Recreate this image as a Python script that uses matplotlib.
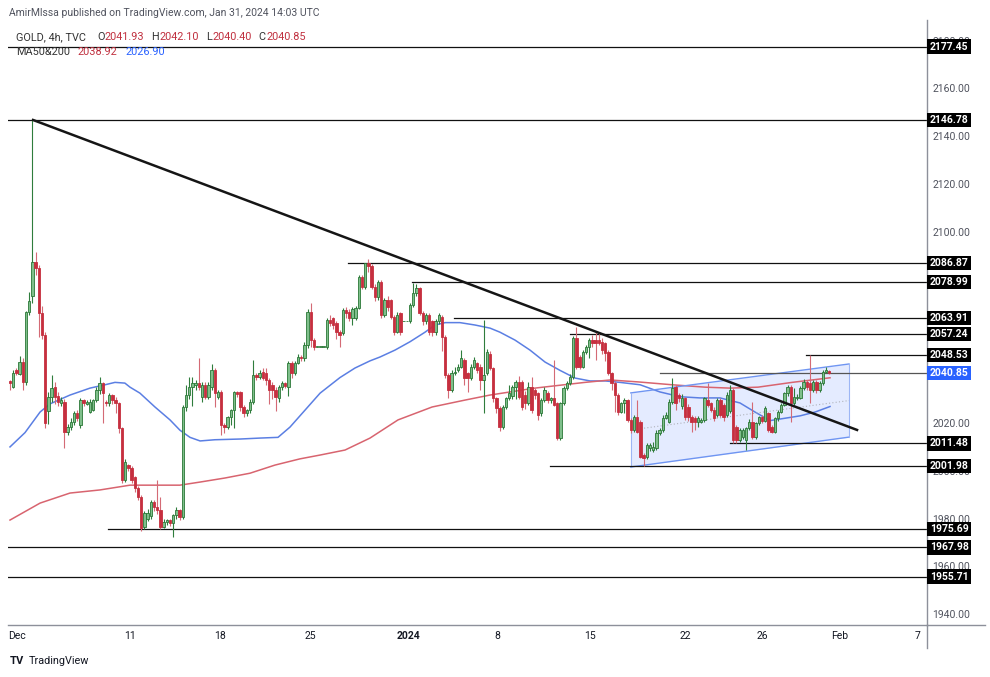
import matplotlib
matplotlib.use('Agg')
import matplotlib.pyplot as plt
import numpy as np

plt.rcParams['font.family'] = ['Roboto', 'DejaVu Sans']

# 4h candles (open, high, low, close)
wk_dec04 = [
    (2037.5, 2038, 2034, 2036.6), (2035, 2042, 2034.5, 2041), (2042, 2043, 2040, 2040.8),
    (2040.5, 2048, 2040, 2045.7), (2045.7, 2047, 2034, 2037), (2037, 2067, 2036, 2066.6),
    (2066.6, 2075, 2065, 2071), (2073, 2146.78, 2070, 2087.5), (2087.5, 2091.5, 2082, 2085),
    (2085, 2086, 2056, 2066), (2066, 2069, 2055, 2057), (2057, 2058, 2018, 2020),
    (2025, 2033, 2019.5, 2031), (2031, 2040, 2029, 2034.5), (2035, 2037, 2028, 2031),
    (2031.5, 2033, 2027, 2029), (2028.5, 2031, 2027, 2029.5), (2029, 2030, 2009.4, 2016.4),
    (2016.4, 2019.5, 2015, 2018.5), (2018.5, 2022, 2017, 2020.6), (2020.6, 2025, 2019, 2024),
    (2024, 2025.5, 2021, 2022), (2019, 2030.5, 2018, 2029.6), (2029.6, 2030, 2027, 2028.2),
    (2028, 2029.5, 2027.5, 2028.9), (2024.7, 2030, 2024, 2028.9), (2025.4, 2030, 2025, 2029.6),
    (2029.6, 2035, 2029, 2033.8), (2033.8, 2039.4, 2032, 2036.6), (2036.6, 2037, 2020, 2032.4),
    (2029, 2029.5, 2027, 2028.2), (2028.2, 2032.5, 2027, 2031.7), (2031.7, 2032.3, 2028, 2029.6),
    (2029.6, 2031, 2024, 2028.2), (2028.2, 2029, 2016, 2017.8), (2017.8, 2018.5, 1995, 1996.1),
    (1996.1, 2005, 1995.5, 2003.8), (2002.4, 2003, 2000, 2001),
]
wk_dec11 = [
    (2001, 2002, 1995, 1996.1), (1997.5, 1998, 1991, 1992.7), (1992.7, 1993.5, 1988, 1989.2),
    (1989.2, 1990, 1975, 1975.9), (1976.6, 1983, 1975.7, 1982.2), (1980, 1984, 1979, 1982.5),
    (1981, 1988, 1980, 1987.1), (1987.1, 1988, 1983, 1985), (1985, 1996, 1982, 1983.6),
    (1983.6, 1989, 1975.7, 1976.6), (1976.6, 1980, 1976, 1978.7), (1978.7, 1980, 1977.5, 1979.4),
    (1979.4, 1980, 1977, 1978), (1978, 1982, 1972.4, 1981.5), (1981.5, 1985, 1980, 1983.6),
    (1983.6, 1984, 1979.5, 1980.8), (1980.8, 2027.5, 1980, 2026.8), (2026.8, 2036, 2025, 2031.7),
    (2031.7, 2039.4, 2030, 2035.2), (2035.2, 2039.4, 2027, 2036.6), (2035.9, 2038, 2034, 2036.6),
    (2036.6, 2047.1, 2034, 2035.2), (2031, 2037, 2029, 2036), (2035.9, 2037, 2030, 2031),
    (2031, 2037, 2030, 2035.9), (2035.2, 2044.6, 2034, 2042.2), (2042.2, 2043, 2026.8, 2032.4),
    (2031, 2034, 2030, 2033), (2033, 2034, 2015, 2019.2), (2019.2, 2020, 2016, 2018.5),
    (2018.5, 2023, 2017.5, 2022.6), (2022.6, 2026, 2019, 2025.4), (2025.4, 2033.5, 2018, 2033.1),
    (2033.1, 2033.5, 2031, 2032), (2033.1, 2033.5, 2025, 2026.8), (2026.8, 2027.5, 2022.6, 2024),
    (2024, 2026, 2023, 2025.4),
]
wk_dec18 = [
    (2025.4, 2030, 2024, 2028.9), (2028.9, 2046.4, 2028, 2040.1), (2040.1, 2041, 2038, 2039.4),
    (2039.4, 2042, 2038.5, 2040.8), (2041.5, 2043, 2038, 2039), (2040.8, 2043, 2036, 2038),
    (2038, 2039, 2028, 2033.8), (2036, 2037, 2030, 2033.8), (2033.8, 2035, 2025, 2031),
    (2030.3, 2036, 2029, 2035.2), (2035.2, 2037.5, 2034, 2036.6), (2036.6, 2037, 2034.5, 2035.5),
    (2035.2, 2046, 2031.5, 2045), (2045, 2046, 2039, 2041), (2041, 2046, 2040, 2045.2),
    (2045.2, 2049, 2044.5, 2047.7), (2047.7, 2048.5, 2046, 2047), (2047, 2054, 2046, 2052.6),
    (2052.6, 2067.5, 2051.5, 2066.6), (2066.6, 2070.1, 2052, 2054.7), (2054.7, 2055.5, 2050.5, 2051.9),
    (2051.9, 2051.9, 2051.9, 2051.9), (2051.9, 2051.9, 2051.9, 2051.9), (2051.9, 2051.9, 2051.9, 2051.9),
    (2051.9, 2064, 2051, 2063.1), (2063.1, 2065, 2060.5, 2061.7), (2063.8, 2064.5, 2059.5, 2061),
    (2061.7, 2062.5, 2055, 2058.2), (2058.2, 2059, 2052, 2056.8), (2057.5, 2068, 2057, 2067.3),
    (2067.3, 2068.5, 2064, 2066), (2066.6, 2067.5, 2062.5, 2063.8), (2063.8, 2068.5, 2061, 2067.5),
    (2064, 2069, 2063, 2068), (2068, 2082, 2067.5, 2081.2), (2081.2, 2082, 2076, 2077),
    (2077, 2086.9, 2076, 2086.8),
]
wk_jan01 = [
    (2086.8, 2088.6, 2083, 2085.7), (2085.7, 2086.5, 2076, 2077), (2077, 2078, 2071, 2072.8),
    (2072.8, 2080, 2071.5, 2079.1), (2079.1, 2080, 2064, 2065.1), (2065.1, 2072.5, 2064.5, 2071.5),
    (2071.5, 2073, 2067, 2068.6), (2071.5, 2072, 2063.5, 2064.4), (2064.4, 2065, 2057, 2058.2),
    (2058.2, 2066.5, 2057.5, 2065.1), (2066, 2066.5, 2057, 2058.2),
    (2062.5, 2062.5, 2062.5, 2062.5), (2062.5, 2062.5, 2062.5, 2062.5),
    (2062.5, 2070, 2062, 2069.3), (2069.3, 2078.4, 2068.5, 2074.2), (2074.2, 2078, 2073, 2076.3),
    (2076.3, 2077, 2065, 2066), (2066, 2067, 2061, 2062.5), (2062.5, 2066, 2061.5, 2065.1),
    (2065.1, 2066, 2057, 2058.2), (2062.5, 2063, 2056.5, 2058.2), (2058.2, 2063.5, 2057, 2062.5),
    (2062.5, 2066, 2061.5, 2065.1), (2064.4, 2065, 2050, 2056.1), (2056.1, 2057, 2039, 2040.1),
    (2040.1, 2041, 2030.3, 2033.8), (2033.8, 2042, 2033, 2040.8), (2040.8, 2043.5, 2040, 2041.5),
    (2042.2, 2044.5, 2041.5, 2043.6), (2043.6, 2050.6, 2043, 2047.1), (2046.4, 2047, 2036, 2038.7),
    (2040.8, 2041.5, 2033, 2038.7), (2038.7, 2044.5, 2038, 2043.6), (2043.6, 2047.5, 2042.5, 2046.4),
    (2045, 2045.5, 2041, 2042.2), (2043.6, 2044.5, 2034, 2038), (2038, 2063.1, 2024, 2040.1),
]
wk_jan08 = [
    (2041, 2051, 2040, 2049.8), (2049, 2050, 2042, 2043), (2042.9, 2043.5, 2029, 2030.3),
    (2030.3, 2031, 2024, 2026.1), (2026.1, 2027, 2016.5, 2018.5), (2018.5, 2027.5, 2017.5, 2026.8),
    (2026.8, 2031, 2026, 2030.3), (2030.3, 2036, 2029.5, 2032.4), (2031.5, 2036, 2030, 2035.2),
    (2035.2, 2038, 2030, 2037.3), (2037.3, 2039.5, 2030, 2031), (2037.3, 2038, 2025.5, 2026.8),
    (2031.7, 2033.5, 2026, 2028.2), (2028.2, 2037, 2027.5, 2035.2), (2035.2, 2039.4, 2024, 2025.4),
    (2033.8, 2034.5, 2030, 2031.7), (2032.4, 2033, 2021.3, 2023.3), (2024, 2030.5, 2023, 2029.6),
    (2029.6, 2035, 2029, 2033.8), (2032.4, 2033.5, 2028.5, 2029.6), (2029.6, 2031, 2028.5, 2030.3),
    (2030.3, 2046.4, 2027, 2027.5), (2028.2, 2029, 2012.9, 2013.6), (2013.6, 2029, 2013, 2028.2),
    (2028.2, 2035.5, 2027.5, 2034.5), (2034.5, 2037.5, 2034, 2036.6), (2036.6, 2040.5, 2036, 2039.4),
    (2039.4, 2056.5, 2038.5, 2055.4), (2055.4, 2060.3, 2042.5, 2043.6), (2047.7, 2048.5, 2042.5, 2043.6),
    (2043.6, 2050.5, 2043, 2049.8), (2049.8, 2052.5, 2049, 2051.9), (2051.9, 2055.5, 2047, 2054.7),
    (2054.7, 2057, 2052, 2053.3), (2054.7, 2058.5, 2046.4, 2053.3), (2054.7, 2058, 2052.5, 2053.3),
    (2054, 2055.5, 2049, 2050.5), (2053.3, 2054, 2046, 2049.2),
]
wk_jan15 = [
    (2049.8, 2050.5, 2040, 2040.8), (2040.8, 2041.5, 2034, 2036.6), (2036.6, 2037.5, 2024.7, 2031.7),
    (2031.7, 2032.5, 2023.5, 2024.7), (2024.7, 2029, 2024, 2028.2), (2028.2, 2030.5, 2024, 2029.6),
    (2029.6, 2030, 2020.5, 2021.3), (2021.3, 2022, 2016, 2017.1), (2017.1, 2023.5, 2016.4, 2022.6),
    (2022.6, 2029.6, 2015.7, 2016.4), (2020.5, 2021.3, 2005.2, 2005.9), (2006.6, 2007.5, 2001.98, 2005.2),
    (2005.9, 2011.5, 2005, 2010.8), (2009.4, 2011.5, 2008.5, 2010.8), (2008.7, 2012, 2008, 2010.1),
    (2009.4, 2017, 2008.7, 2015.7), (2015.7, 2018, 2015, 2017.1), (2017.1, 2023.5, 2016.4, 2022),
    (2022, 2024.5, 2021.5, 2023.3), (2020.5, 2030, 2020, 2028.9), (2028.9, 2038.7, 2028, 2034.5),
    (2035.2, 2036, 2025.4, 2028.2), (2031.7, 2032.5, 2029, 2030.3), (2027, 2032, 2026, 2030.3),
    (2030.3, 2031, 2021.3, 2022.6), (2026.8, 2028, 2021, 2022.6), (2022.6, 2023.5, 2016.4, 2020.5),
    (2022, 2023, 2017.1, 2020.5), (2020.5, 2023, 2018.5, 2022), (2020.5, 2022, 2019.9, 2021.3),
    (2021.3, 2031, 2020.5, 2030.3), (2029.6, 2036.6, 2026.8, 2027.5), (2028.2, 2029, 2024.7, 2025.4),
    (2025.4, 2026.5, 2021, 2022), (2023.3, 2030.5, 2022.6, 2029.6), (2029.6, 2030.3, 2022.6, 2023.3),
    (2027.5, 2028.2, 2021, 2022.6), (2023.3, 2033, 2022.6, 2031.7),
]
wk_jan24 = [
    (2025, 2036, 2024, 2033.8), (2033.8, 2034.5, 2011.5, 2012.9), (2018.5, 2019, 2011.5, 2012.9),
    (2012.9, 2018, 2012, 2017.1), (2014.3, 2018, 2013.5, 2017.1), (2012.9, 2018.5, 2008.7, 2017.8),
    (2017.8, 2021.5, 2017, 2020.5), (2020.5, 2029, 2013.5, 2014.3), (2014.3, 2020.5, 2013.5, 2019.9),
    (2019.9, 2023, 2019, 2022.6), (2022.6, 2023.3, 2020, 2021), (2021, 2027, 2020.5, 2026.1),
    (2024, 2024.7, 2016.4, 2017.1), (2018.5, 2019, 2015.7, 2016.4), (2016.4, 2022.6, 2016, 2022),
    (2022, 2025.5, 2021, 2024.7), (2024.7, 2028.5, 2024, 2027.5), (2027.5, 2033, 2027, 2032.4),
    (2032.4, 2036, 2031.5, 2035.2), (2035.2, 2036, 2020.5, 2028.2), (2028.2, 2034.5, 2027.5, 2031),
    (2030.3, 2032, 2029.5, 2031), (2030.3, 2035.5, 2030, 2034.5), (2034.5, 2038.5, 2034, 2037.3),
    (2037.3, 2038, 2034, 2035.2), (2036.6, 2048.53, 2028.2, 2033.8), (2033.8, 2038, 2033, 2037.3),
    (2037.3, 2038, 2032.4, 2033.8), (2033.8, 2037.5, 2033, 2036.6), (2036.6, 2042.2, 2036, 2041.5),
    (2041.5, 2043.5, 2040.8, 2042.2), (2041.93, 2042.10, 2040.40, 2040.85),
]

# moving averages, sampled along the bar axis
ma_blue_x = [0, 4.7, 9.4, 12.5, 18.75, 25, 29.7, 32.8, 35.9, 37.5, 40.6, 45.3, 50, 53.1, 56.25,
             59.4, 64, 71.9, 78.1, 83.75, 87.5, 92.2, 96.9, 103.1, 107.8, 112.5, 115.6, 120.3, 125,
             129.7, 132.8, 136, 140.6, 145.3, 150, 153.1, 157.8, 162.5, 167.2, 171.9, 176.6, 181.25,
             186, 190.6, 196.9, 203.1, 209.4, 215.6, 221.9, 228.1, 232.8, 237.5, 242.2, 246.9, 251.6,
             256.25]
ma_blue_y = [2010, 2016, 2024.6, 2028, 2031.7, 2034.6, 2036, 2037, 2036.7, 2035, 2032.5, 2026.7,
             2021.3, 2017, 2014, 2012.5, 2013, 2013.3, 2013.7, 2014, 2018.3, 2025.4, 2032.5, 2039,
             2043, 2046, 2047.6, 2050.5, 2054, 2058, 2061, 2062, 2062, 2061, 2059.7, 2058, 2054.7,
             2050.5, 2045.5, 2042, 2038.8, 2037.6, 2037.6, 2037, 2036, 2033, 2031, 2030.5, 2030.5,
             2028.4, 2024.6, 2021, 2022, 2023, 2024.6, 2026.9]
ma_red_x = [0, 9.4, 18.75, 28.1, 37.5, 43.75, 53.1, 59.4, 67.2, 75, 82.8, 90.6, 96.9, 104.7, 112.5,
            121.25, 131.9, 142.2, 150, 164, 179.7, 187.5, 196.25, 206.9, 217.2, 225, 233.75, 244.4,
            256.25]
ma_red_y = [1979.4, 1986.5, 1990.7, 1992, 1994, 1994, 1994, 1995.3, 1997, 1999, 2002.4, 2005,
            2006.6, 2008.7, 2013.7, 2021.3, 2026.7, 2029.6, 2031.7, 2034.6, 2037, 2038, 2037.2,
            2036, 2035, 2034.6, 2035, 2037, 2038.92]

# horizontal levels and the bar where each one starts (-1 = from the left edge)
levels = [2177.45, 2146.78, 2086.87, 2078.99, 2063.91, 2057.24, 2048.53, 2040.85,
          2011.48, 2001.98, 1975.69, 1967.98, 1955.71]
level_start = [-1, -1, 105.6, 125.6, 138.75, 175, 248.75, 203, 225, 168.75, 30.6, -1, -1]

trend_x = [7.2, 264.7]
trend_y = [2146.78, 2017.1]
chan_x = [194, 262.2]
chan_top = [2032.6, 2044.7]
chan_bot = [2001.6, 2014.1]

# price scale labels (the ones fully hidden behind level tags are left out)
ytick_vals = [1940, 1960, 1980, 2000, 2020, 2100, 2120, 2140, 2160, 2180]

tick_pos = [2.2, 37.5, 65.6, 93.75, 124.4, 152.2, 181.25, 211, 235, 259.4, 283.75]
tick_lab = ['Dec', '11', '18', '25', '2024', '8', '15', '22', '26', 'Feb', '7']

bars = wk_dec04 + wk_dec11 + wk_dec18 + wk_jan01 + wk_jan08 + wk_jan15 + wk_jan24
o, h, l, c = (np.array(v) for v in zip(*bars))
idx = np.arange(len(bars))

W, H = 990, 677
fig = plt.figure(figsize=(W / 100, H / 100), dpi=100, facecolor='white')
ax = fig.add_axes([8 / W, 1 - 625 / H, 919 / W, 605 / H])
ax.set_xlim(-0.625, 286.56)
ax.set_ylim(1935.5, 2188.6)


def fpx(x, y):
    return x / W, 1 - y / H


# candles
up = c >= o
lo = np.minimum(o, c)
hgt = np.maximum(np.abs(c - o), 0.35)
ax.vlines(idx[up], l[up], h[up], color='#2f7d3c', lw=0.8, zorder=3)
ax.vlines(idx[~up], l[~up], h[~up], color='#d46a75', lw=0.8, zorder=3)
ax.bar(idx[up], hgt[up], bottom=lo[up], width=0.7, color='#7fbf8b',
       edgecolor='#2a7736', lw=0.6, zorder=4)
ax.bar(idx[~up], hgt[~up], bottom=lo[~up], width=0.7, color='#c62f3f',
       edgecolor='#c62f3f', lw=0.6, zorder=4)

# moving averages
ax.plot(ma_blue_x, ma_blue_y, color='#5b7fe3', lw=1.1, zorder=2)
ax.plot(ma_red_x, ma_red_y, color='#d8646f', lw=1.1, zorder=2)

# channel
ax.fill_between(chan_x, chan_bot, chan_top, color='#2962ff', alpha=0.12, lw=0, zorder=1)
ax.plot(chan_x, chan_top, color='#6f95f2', lw=1, zorder=2)
ax.plot(chan_x, chan_bot, color='#6f95f2', lw=1, zorder=2)
ax.plot([chan_x[0]] * 2, [chan_bot[0], chan_top[0]], color='#9db6f5', lw=0.8, zorder=2)
ax.plot([chan_x[1]] * 2, [chan_bot[1], chan_top[1]], color='#9db6f5', lw=0.8, zorder=2)
mid = [(a + b) / 2 for a, b in zip(chan_top, chan_bot)]
ax.plot(chan_x, mid, color='#b0b3bb', lw=0.8, ls=(0, (1, 2)), zorder=2)

# trend line
ax.plot(trend_x, trend_y, color='#151515', lw=1.8, zorder=5)

# levels + price tags
x0, x1 = ax.get_xlim()
for lev, st in zip(levels, level_start):
    start = x0 if st < 0 else st
    col = '#555555' if lev == 2040.85 else '#111111'
    ax.plot([start, x1], [lev, lev], color=col, lw=0.9, zorder=2)
    box = '#2962ff' if lev == 2040.85 else '#000000'
    ax.text(1.003, lev, f'{lev:.2f}', transform=ax.get_yaxis_transform(), ha='left',
            va='center', color='white', fontsize=7.5, fontweight='bold', clip_on=False,
            zorder=10, bbox=dict(boxstyle='square,pad=0.22', fc=box, ec='none'))

# axes styling
for s in ['top', 'left']:
    ax.spines[s].set_visible(False)
for s in ['right', 'bottom']:
    ax.spines[s].set_color('#8d909a')
    ax.spines[s].set_linewidth(1)
ax.yaxis.tick_right()
ax.set_yticks(ytick_vals)
ax.set_yticklabels([f'{v:.2f}' for v in ytick_vals])
ax.tick_params(axis='y', length=0, pad=4, labelsize=7.5, labelcolor='#50535e')
ax.set_xticks(tick_pos)
ax.set_xticklabels(tick_lab)
ax.tick_params(axis='x', length=0, pad=4, labelsize=7.5, labelcolor='#131722')
for t in ax.get_xticklabels():
    if t.get_text() == '2024':
        t.set_fontweight('bold')

fig.add_artist(plt.Line2D([927 / W, 985 / W], [1 - 625 / H] * 2, color='#8d909a', lw=1))
fig.add_artist(plt.Line2D([927 / W] * 2, [1 - 625 / H, 1 - 648 / H], color='#8d909a', lw=1))

# header
renderer = fig.canvas.get_renderer()


def chain(x, y, pieces, size=7.8):
    for s, col, gap in pieces:
        t = fig.text(*fpx(x, y), s, fontsize=size, color=col, va='center')
        x = t.get_window_extent(renderer=renderer).x1 + gap


fig.text(*fpx(9, 13), 'AmirMlssa published on TradingView.com, Jan 31, 2024 14:03 UTC',
         fontsize=7.5, color='#50535e', va='center')
red = '#c0303f'
dark = '#333333'
chain(16, 37, [('GOLD, 4h, TVC', dark, 11), ('O', dark, 0.5), ('2041.93', red, 7),
               ('H', dark, 0.5), ('2042.10', red, 7), ('L', dark, 0.5), ('2040.40', red, 7),
               ('C', dark, 0.5), ('2040.85', red, 0)])
chain(16, 52, [('MA50&200', dark, 7), ('2038.92', red, 9), ('2026.90', '#2962ff', 0)])

# logo
fig.text(*fpx(10, 661), 'TV', fontsize=8, fontweight='bold', color='#131722', va='center')
fig.text(*fpx(29, 661), 'TradingView', fontsize=7.8, color='#131722', va='center')

fig.savefig('out.png', dpi=100, facecolor='white')
